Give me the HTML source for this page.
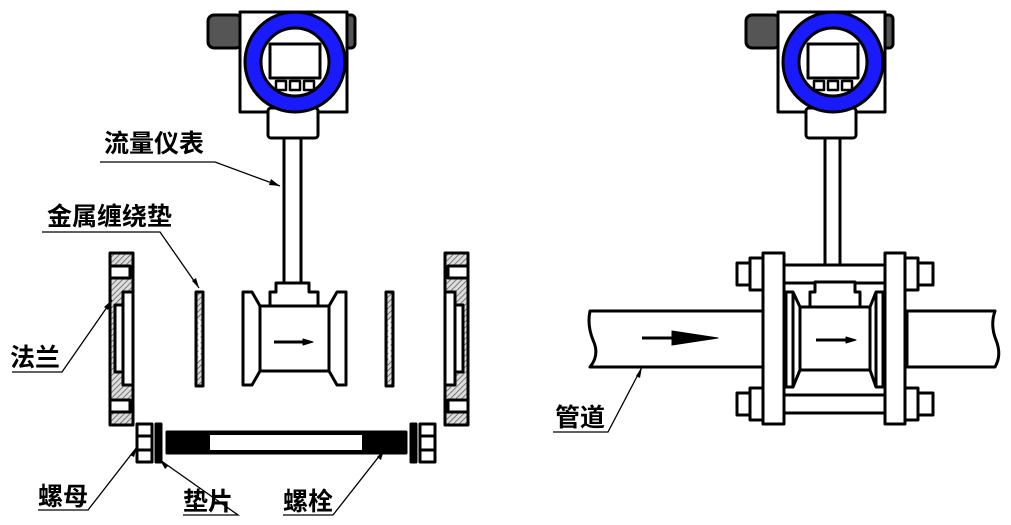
<!DOCTYPE html>
<html><head><meta charset="utf-8"><style>
html,body{margin:0;padding:0;background:#fff;}
svg{display:block;}
text{font-family:"Liberation Sans","Noto Sans CJK SC",sans-serif;font-weight:bold;font-size:25px;fill:#000;}
</style></head><body>
<svg width="1011" height="525" viewBox="0 0 1011 525" xmlns="http://www.w3.org/2000/svg">
<defs>
<pattern id="h" width="4" height="4" patternUnits="userSpaceOnUse" patternTransform="rotate(45)">
<rect width="4" height="4" fill="#ddd"/><line x1="0" y1="0" x2="0" y2="4" stroke="#555" stroke-width="1.5"/></pattern>
<g id="tx">
<rect x="208" y="15" width="34" height="33" rx="6" fill="#555" stroke="#000" stroke-width="3"/>
<rect x="345" y="15" width="10" height="33" rx="4" fill="#555" stroke="#000" stroke-width="3"/>
<rect x="240" y="12" width="107" height="100" fill="#fff" stroke="#000" stroke-width="3"/>
<rect x="268" y="108" width="50" height="30" rx="3" fill="#fff" stroke="#000" stroke-width="3"/>
<circle cx="295" cy="62" r="50" fill="#1a1aff" stroke="#000" stroke-width="3"/>
<circle cx="295" cy="62" r="34" fill="#fff" stroke="#000" stroke-width="3"/>
<rect x="270" y="44" width="50" height="34" fill="#fff" stroke="#000" stroke-width="3"/>
<rect x="276" y="81" width="10" height="9" fill="#fff" stroke="#000" stroke-width="2.5"/>
<rect x="290" y="81" width="10" height="9" fill="#fff" stroke="#000" stroke-width="2.5"/>
<rect x="304" y="81" width="10" height="9" fill="#fff" stroke="#000" stroke-width="2.5"/>
</g>
</defs>
<g stroke="#000" stroke-width="3" fill="#fff" stroke-linejoin="round">
<!-- LEFT -->
<use href="#tx"/>
<rect x="284" y="138" width="17" height="150" />
<path d="M270 307 V292 H276 V283 H309 V292 H318 V307 Z"/>
<rect x="260" y="306" width="69" height="65"/>
<path d="M243 292 H252 L260 306 V371 L252 385 H243 Z"/>
<path d="M346 292 H337 L329 306 V371 L337 385 H346 Z"/>
<path d="M274 342 H306" stroke-width="3"/><path d="M303 339 L313 342 L303 345 Z" fill="#000" stroke-width="1"/>
<!-- gaskets -->
<rect x="196" y="292" width="7" height="94" fill="url(#h)"/>
<line x1="199.5" y1="320" x2="199.5" y2="360" stroke="#fff" stroke-width="2"/>
<rect x="386" y="292" width="7" height="94" fill="url(#h)"/>
<line x1="389.5" y1="320" x2="389.5" y2="360" stroke="#fff" stroke-width="2"/>
<!-- flanges -->
<rect x="110" y="253" width="23" height="172" fill="url(#h)"/>
<rect x="110" y="266" width="20" height="12" />
<rect x="110" y="400" width="20" height="12" />
<path d="M123 292 H133 V385 H123 Z"/><path d="M115 305 H123 V372 H115 Z"/>
<rect x="445" y="253" width="23" height="172" fill="url(#h)"/>
<rect x="448" y="266" width="20" height="12" />
<rect x="448" y="400" width="20" height="12" />
<path d="M445 292 H455 V385 H445 Z"/><path d="M455 305 H463 V372 H455 Z"/>
<!-- bolt -->
<rect x="137" y="424" width="15" height="38"/><line x1="137" y1="436" x2="152" y2="436"/><line x1="137" y1="450" x2="152" y2="450"/>
<rect x="156" y="424" width="5" height="38" fill="#000"/>
<rect x="167" y="432" width="239" height="21" fill="#000"/>
<rect x="210" y="435" width="152" height="15" fill="#fff" stroke="none"/>
<rect x="411" y="424" width="5" height="38" fill="#000"/>
<rect x="420" y="424" width="15" height="38"/><line x1="420" y1="436" x2="435" y2="436"/><line x1="420" y1="450" x2="435" y2="450"/>

<!-- RIGHT -->
<use href="#tx" x="538"/>
<rect x="825" y="138" width="15" height="140"/>
<!-- pipes -->
<path d="M590 311 H763 V367 H590 Q600 355 593 340 Q587 325 590 311 Z"/>
<path d="M907 311 H995 Q990 325 996 340 Q1002 355 995 367 H907 Z"/>
<!-- bolts -->
<rect x="784" y="265" width="101" height="18"/>
<rect x="784" y="395" width="101" height="18"/>
<rect x="737" y="263" width="13" height="22"/><rect x="750" y="258" width="13" height="32"/>
<rect x="918" y="263" width="15" height="22"/><rect x="905" y="258" width="13" height="32"/>
<rect x="737" y="393" width="13" height="22"/><rect x="750" y="388" width="13" height="32"/>
<rect x="918" y="393" width="15" height="22"/><rect x="905" y="388" width="13" height="32"/>
<rect x="763" y="253" width="21" height="171"/>
<rect x="885" y="253" width="20" height="171"/>
<!-- meter -->
<path d="M810 307 V292 H815 V282 H855 V292 H860 V307 Z"/>
<rect x="800" y="307" width="70" height="63"/>
<path d="M786 292 H793 L800 307 V370 L793 387 H786 Z"/><line x1="793" y1="292" x2="793" y2="387"/>
<path d="M883 292 H876 L870 307 V370 L876 387 H883 Z"/><line x1="876" y1="292" x2="876" y2="387"/>
<path d="M816 340 H848"/><path d="M846 337 L856 340 L846 343 Z" fill="#000" stroke-width="1"/>
<path d="M642 338 H690"/><path d="M672 331 L718 338 L672 345 Z" fill="#000" stroke-width="1"/>
</g>
<!-- leaders -->
<g stroke="#000" stroke-width="1.3" fill="none">
<polyline points="100,162 215,162 280,186"/>
<polyline points="42,232 160,232 199,288"/>
<polyline points="12,372 62,372 112,300"/>
<polyline points="38,510 88,510 137,447"/>
<polyline points="183,515 238,515 160,460"/>
<polyline points="283,515 333,515 384,450"/>
<polyline points="553,432 608,432 642,367"/>
</g>
<g fill="#000">
<path d="M280 186 L271 179 L269 185 Z"/>
<path d="M199 288 L196 278 L192 281 Z"/>
<path d="M112 300 L104 307 L108 310 Z"/>
<path d="M137 447 L130 455 L134 457 Z"/>
<path d="M160 460 L165 469 L168 466 Z"/>
<path d="M384 450 L377 457 L381 460 Z"/>
<path d="M642 367 L636 376 L640 378 Z"/>
</g>
<text x="104" y="152">流量仪表</text>
<text x="47" y="225" font-size="26">金属缠绕垫</text>
<text x="10" y="366">法兰</text>
<text x="38" y="505">螺母</text>
<text x="183" y="510">垫片</text>
<text x="283" y="510">螺栓</text>
<text x="555" y="426">管道</text>
</svg>
</body></html>
